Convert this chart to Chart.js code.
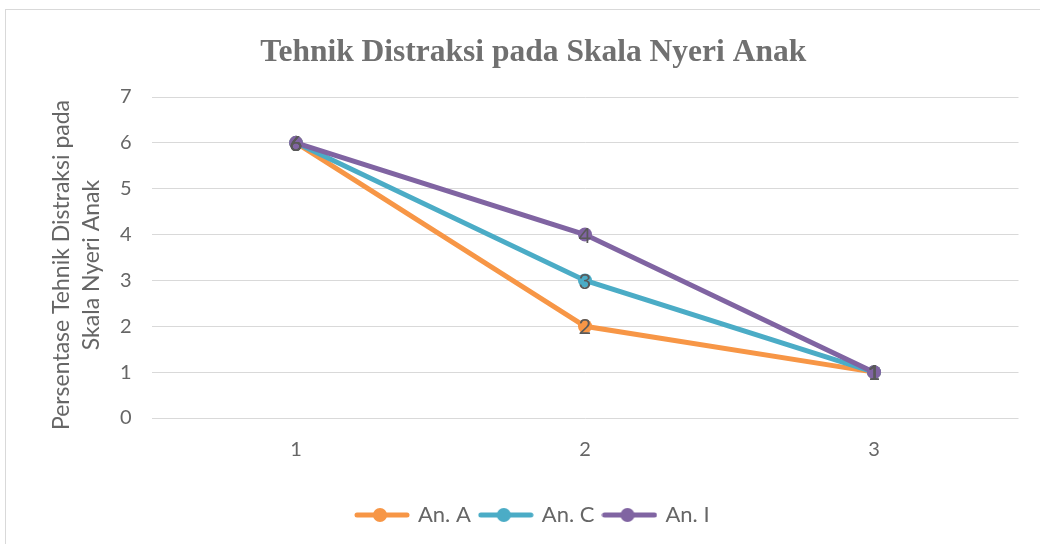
<!DOCTYPE html>
<html>
<head>
<meta charset="utf-8">
<script src="https://cdn.jsdelivr.net/npm/chart.js@4"></script>
<style>
  html, body { margin: 0; padding: 0; background: #fff; overflow: hidden; }
  #frame { position: absolute; left: 5px; top: 9px; width: 1100px; height: 600px;
    border-left: 1px solid #d9d9d9; border-top: 1px solid #d9d9d9; }
  #chartDiv { position: absolute; left: 0; top: 0; }
</style>
</head>
<body>
<div id="frame"></div>
<canvas id="chartDiv" width="1040" height="544"></canvas>
<script>
const categories = ['1', '2', '3']
const seriesNames = ['An. A', 'An. C', 'An. I']
const anA = [6, 2, 1]
const anC = [6, 3, 1]
const anI = [6, 4, 1]
const yTicks = [0, 1, 2, 3, 4, 5, 6, 7]
const colors = ['#F79646', '#4BACC6', '#8064A2']

const textGray = '#666666'
const uiFont = 'Lato, "Open Sans", sans-serif'

// small line+dot picture for the legend
function legendIcon(color) {
  const c = document.createElement('canvas')
  c.width = 56
  c.height = 16
  const g = c.getContext('2d')
  g.strokeStyle = color
  g.lineWidth = 5
  g.lineCap = 'round'
  g.beginPath()
  g.moveTo(3, 8)
  g.lineTo(53, 8)
  g.stroke()
  g.fillStyle = color
  g.beginPath()
  g.arc(26, 8, 7, 0, Math.PI * 2)
  g.fill()
  return c
}

const pointLabels = {
  id: 'pointLabels',
  afterDatasetsDraw(chart) {
    const ctx = chart.ctx
    ctx.save()
    ctx.font = '22px ' + uiFont
    ctx.fillStyle = '#595959'
    ctx.textAlign = 'center'
    ctx.textBaseline = 'middle'
    chart.data.datasets.forEach((ds, i) => {
      chart.getDatasetMeta(i).data.forEach((pt, j) => {
        ctx.fillText(String(ds.data[j]), pt.x, pt.y + 1)
      })
    })
    ctx.restore()
  }
}

// y title drawn by hand so the long line is not squeezed
const yTitle = {
  id: 'yTitle',
  afterDraw(chart) {
    const ctx = chart.ctx
    ctx.save()
    ctx.font = '23px ' + uiFont
    ctx.fillStyle = textGray
    ctx.textAlign = 'center'
    ctx.textBaseline = 'middle'
    ctx.translate(62, 265)
    ctx.rotate(-Math.PI / 2)
    ctx.fillText('Persentase Tehnik Distraksi pada', 0, 0)
    ctx.fillText('Skala Nyeri Anak', 0, 30)
    ctx.restore()
  }
}

const allSeries = [anA, anC, anI]

new Chart(document.getElementById('chartDiv'), {
  type: 'line',
  data: {
    labels: categories,
    datasets: allSeries.map((values, i) => ({
      label: seriesNames[i],
      data: values,
      borderColor: colors[i],
      backgroundColor: colors[i],
      borderWidth: 5,
      pointRadius: 7,
      pointHoverRadius: 7,
      pointBorderWidth: 0,
      tension: 0,
      order: 2 - i
    }))
  },
  options: {
    responsive: false,
    animation: false,
    layout: {
      padding: { left: 48, right: 21.5, top: 10, bottom: 8 }
    },
    scales: {
      x: {
        offset: true,
        grid: { display: false },
        border: { display: false },
        ticks: { color: textGray, font: { size: 20, family: uiFont }, padding: 12 },
        afterFit(scale) { scale.height = 76 }
      },
      y: {
        min: 0,
        max: 7,
        afterBuildTicks(scale) { scale.ticks = yTicks.map(v => ({ value: v })) },
        grid: { color: '#d9d9d9', lineWidth: 1, drawTicks: false },
        border: { display: false },
        ticks: { color: textGray, font: { size: 20, family: uiFont }, padding: 20 },
        afterFit(scale) { scale.width = 103.5 }
      }
    },
    plugins: {
      title: {
        display: true,
        text: 'Tehnik Distraksi pada Skala Nyeri Anak',
        color: '#707070',
        font: { family: '"Liberation Serif", "Times New Roman", serif', size: 31.5, weight: 'bold', lineHeight: 1.2 },
        padding: { top: 24, bottom: 25.2 }
      },
      legend: {
        position: 'bottom',
        labels: {
          usePointStyle: true,
          pointStyleWidth: 50,
          color: textGray,
          font: { size: 22, family: uiFont },
          padding: 10,
          generateLabels(chart) {
            return chart.data.datasets.map((ds, i) => ({
              text: ds.label,
              pointStyle: legendIcon(ds.borderColor),
              fillStyle: ds.borderColor,
              strokeStyle: ds.borderColor,
              lineWidth: 0,
              fontColor: textGray,
              datasetIndex: i,
              hidden: false
            }))
          }
        }
      },
      tooltip: { enabled: false }
    }
  },
  plugins: [pointLabels, yTitle]
});
</script>
</body>
</html>
